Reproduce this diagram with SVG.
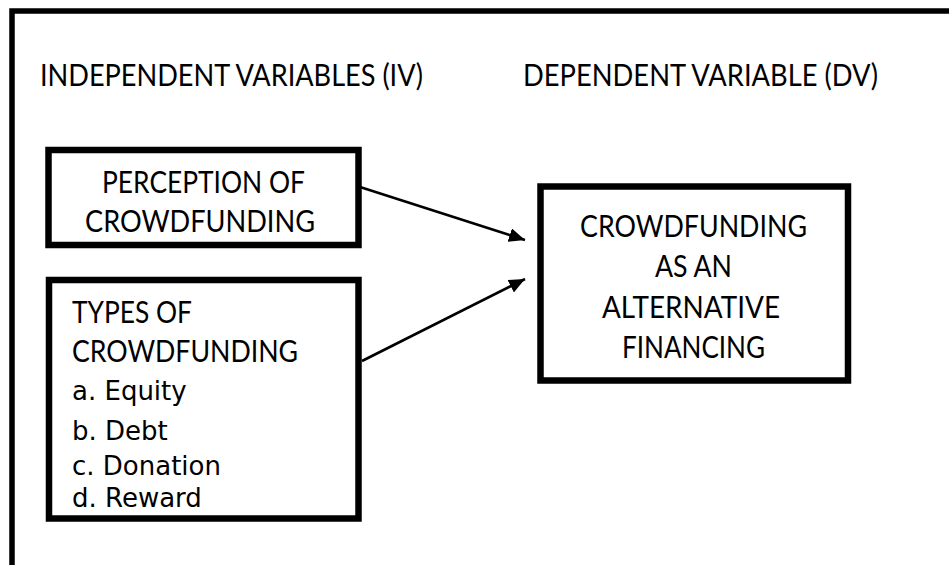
<svg xmlns="http://www.w3.org/2000/svg" width="949" height="565" viewBox="0 0 949 565">
<defs>
<style>
.box{fill:#fff;stroke:#000;stroke-width:6.5}
.t{font-family:Lato,"Open Sans","Liberation Sans",sans-serif;font-size:30.5px;fill:#000}
.l{font-family:"DejaVu Sans",Verdana,sans-serif;font-size:26px;fill:#000}
.c{stroke:#000;stroke-width:2.6;fill:none}
</style>
<marker id="ah" markerUnits="userSpaceOnUse" markerWidth="18" markerHeight="16" refX="16" refY="7" orient="auto">
<path d="M0,0 L16,7 L0,14 Z" fill="#000"/>
</marker>
</defs>
<rect width="949" height="565" fill="#fff"/>
<path d="M12,570 V11 H960" fill="none" stroke="#000" stroke-width="5.5"/>
<text class="t" x="40" y="86" textLength="383" lengthAdjust="spacingAndGlyphs">INDEPENDENT VARIABLES (IV)</text>
<text class="t" x="523" y="86" textLength="355" lengthAdjust="spacingAndGlyphs">DEPENDENT VARIABLE (DV)</text>
<g id="perception">
<rect class="box" x="48.5" y="150" width="310" height="95"/>
<text class="t" x="102" y="193" textLength="203" lengthAdjust="spacingAndGlyphs">PERCEPTION OF</text>
<text class="t" x="85" y="232" textLength="230" lengthAdjust="spacingAndGlyphs">CROWDFUNDING</text>
</g>
<g id="types">
<rect class="box" x="49" y="280" width="309.5" height="238.5"/>
<text class="t" x="72" y="323" textLength="120" lengthAdjust="spacingAndGlyphs">TYPES OF</text>
<text class="t" x="72" y="362" textLength="226" lengthAdjust="spacingAndGlyphs">CROWDFUNDING</text>
<text class="l" x="72" y="400">a. Equity</text>
<text class="l" x="72" y="440">b. Debt</text>
<text class="l" x="72" y="475">c. Donation</text>
<text class="l" x="72" y="507">d. Reward</text>
</g>
<g id="dv">
<rect class="box" x="540.5" y="186.5" width="307.5" height="194"/>
<text class="t" x="580" y="237" textLength="227" lengthAdjust="spacingAndGlyphs">CROWDFUNDING</text>
<text class="t" x="655" y="277" textLength="77" lengthAdjust="spacingAndGlyphs">AS AN</text>
<text class="t" x="602" y="318" textLength="178" lengthAdjust="spacingAndGlyphs">ALTERNATIVE</text>
<text class="t" x="622" y="358" textLength="143" lengthAdjust="spacingAndGlyphs">FINANCING</text>
</g>
<g id="connectors">
<line class="c" x1="360" y1="187" x2="525" y2="240" marker-end="url(#ah)"/>
<line class="c" x1="362" y1="361" x2="525" y2="279" marker-end="url(#ah)"/>
</g>
</svg>
